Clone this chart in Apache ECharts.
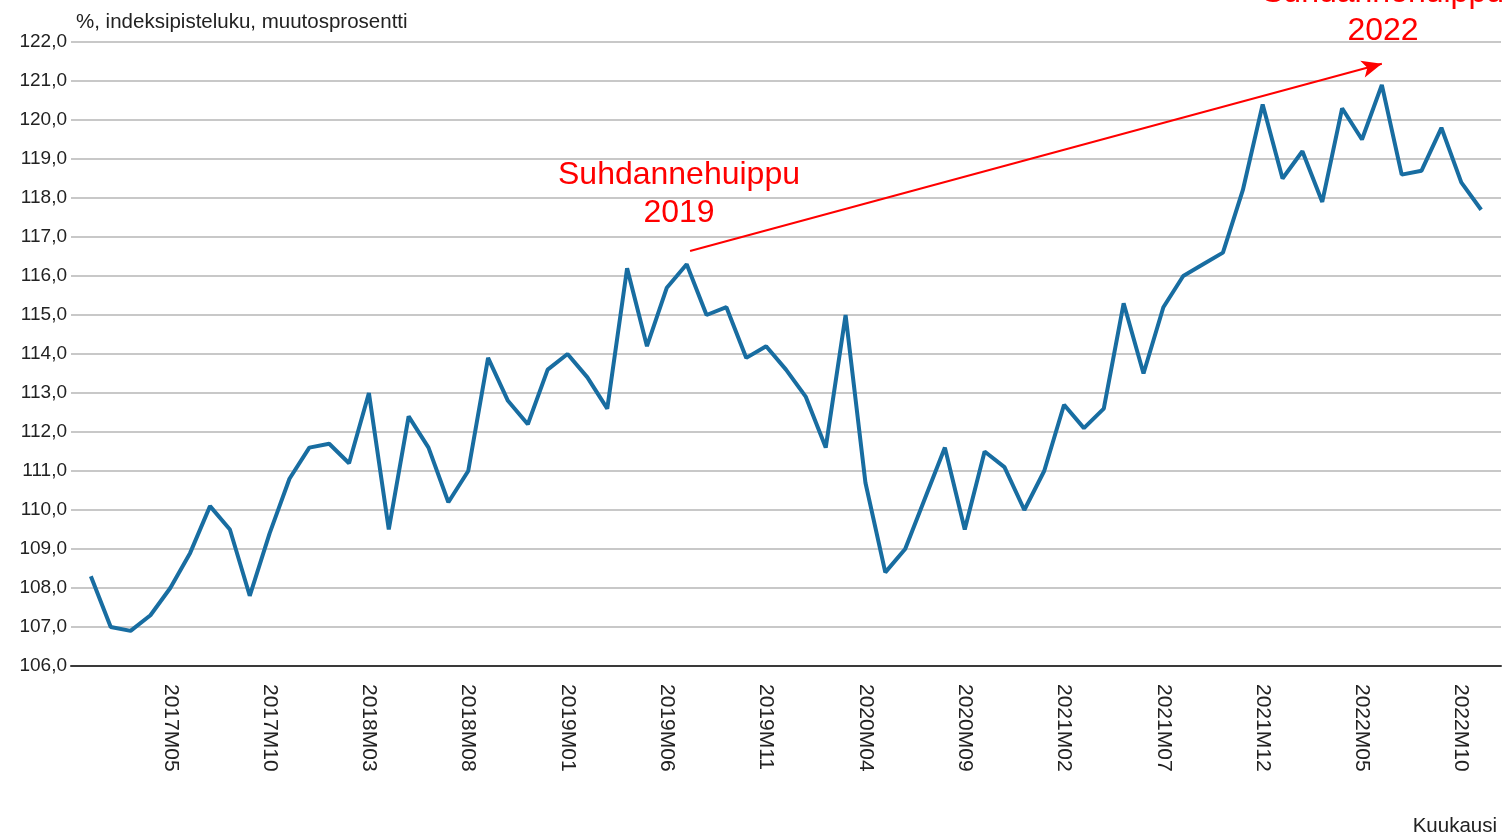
<!DOCTYPE html>
<html>
<head>
<meta charset="utf-8">
<script src="https://cdn.jsdelivr.net/npm/echarts@6/dist/echarts.min.js"></script>
<style>
  html, body { margin: 0; padding: 0; background: #fff; }
  #chart { width: 1506px; height: 837px; }
</style>
</head>
<body>
<div id="chart"></div>
<script>
// kuukaudet 2017M01 .. 2022M11
const months = [
  '2017M01', '2017M02', '2017M03', '2017M04', '2017M05', '2017M06', '2017M07', '2017M08', '2017M09', '2017M10', '2017M11', '2017M12',
  '2018M01', '2018M02', '2018M03', '2018M04', '2018M05', '2018M06', '2018M07', '2018M08', '2018M09', '2018M10', '2018M11', '2018M12',
  '2019M01', '2019M02', '2019M03', '2019M04', '2019M05', '2019M06', '2019M07', '2019M08', '2019M09', '2019M10', '2019M11', '2019M12',
  '2020M01', '2020M02', '2020M03', '2020M04', '2020M05', '2020M06', '2020M07', '2020M08', '2020M09', '2020M10', '2020M11', '2020M12',
  '2021M01', '2021M02', '2021M03', '2021M04', '2021M05', '2021M06', '2021M07', '2021M08', '2021M09', '2021M10', '2021M11', '2021M12',
  '2022M01', '2022M02', '2022M03', '2022M04', '2022M05', '2022M06', '2022M07', '2022M08', '2022M09', '2022M10', '2022M11',
]

const indexValues = [
  108.3, 107.0, 106.9, 107.3, 108.0, 108.9, 110.1, 109.5, 107.8, 109.4, 110.8, 111.6,
  111.7, 111.2, 113.0, 109.5, 112.4, 111.6, 110.2, 111.0, 113.9, 112.8, 112.2, 113.6,
  114.0, 113.4, 112.6, 116.2, 114.2, 115.7, 116.3, 115.0, 115.2, 113.9, 114.2, 113.6,
  112.9, 111.6, 115.0, 110.7, 108.4, 109.0, 110.3, 111.6, 109.5, 111.5, 111.1, 110.0,
  111.0, 112.7, 112.1, 112.6, 115.3, 113.5, 115.2, 116.0, 116.3, 116.6, 118.2, 120.4,
  118.5, 119.2, 117.9, 120.3, 119.5, 120.9, 118.6, 118.7, 119.8, 118.4, 117.7,
]

const yTicks = { min: 106, max: 122, step: 1 }

// nuoli 2019 huipulta 2022 huipulle (kuukausi-indeksi, arvo)
const arrowFrom = [30.17, 116.64]
const arrowTo = [65.0, 121.44]

const FONT = "'Liberation Sans', Arial, sans-serif"

const chart = echarts.init(document.getElementById('chart'))

const option = {
  animation: false,
  backgroundColor: '#fff',
  grid: { left: 71, right: 5, top: 42, bottom: 171 },
  xAxis: {
    type: 'value',
    min: -1,
    max: months.length,
    interval: 5,
    axisLine: { show: true, lineStyle: { color: '#3a3a3a', width: 2 } },
    axisTick: { show: false },
    splitLine: { show: false },
    axisLabel: {
      rotate: -90,
      margin: 18,
      fontSize: 21,
      fontFamily: FONT,
      color: '#222',
      showMinLabel: false,
      showMaxLabel: false,
      formatter: (v) => months[v] || '',
    },
  },
  yAxis: {
    type: 'value',
    min: yTicks.min,
    max: yTicks.max,
    interval: yTicks.step,
    axisLine: { show: false },
    axisTick: { show: false },
    splitLine: { show: true, lineStyle: { color: '#c8c8c8', width: 2 } },
    axisLabel: {
      margin: 4,
      fontSize: 19,
      fontFamily: FONT,
      color: '#222',
      formatter: (v) => v.toFixed(1).replace('.', ','),
    },
  },
  series: [
    {
      type: 'line',
      data: indexValues.map((v, i) => [i, v]),
      showSymbol: false,
      lineStyle: { color: '#186da1', width: 4 },
      itemStyle: { color: '#186da1' },
      markLine: {
        silent: true,
        symbol: ['none', 'arrow'],
        symbolSize: [13, 20],
        label: { show: false },
        lineStyle: { color: '#ff0000', width: 2, type: 'solid' },
        data: [[{ coord: arrowFrom }, { coord: arrowTo }]],
      },
    },
  ],
  graphic: [
    {
      type: 'text',
      x: 76,
      y: 22,
      style: {
        text: '%, indeksipisteluku, muutosprosentti',
        fill: '#222',
        font: '20.5px ' + FONT,
        verticalAlign: 'middle',
      },
    },
    {
      type: 'text',
      x: 679,
      y: 194,
      style: {
        text: 'Suhdannehuippu\n2019',
        fill: '#ff0000',
        font: '32px ' + FONT,
        lineHeight: 38,
        align: 'center',
        verticalAlign: 'middle',
      },
    },
    {
      type: 'text',
      x: 1383,
      y: 12,
      style: {
        text: 'Suhdannehuippu\n2022',
        fill: '#ff0000',
        font: '32px ' + FONT,
        lineHeight: 38,
        align: 'center',
        verticalAlign: 'middle',
      },
    },
    {
      type: 'text',
      x: 1497,
      y: 826,
      style: {
        text: 'Kuukausi',
        fill: '#222',
        font: '20.5px ' + FONT,
        align: 'right',
        verticalAlign: 'middle',
      },
    },
  ],
}

chart.setOption(option)
</script>
</body>
</html>
